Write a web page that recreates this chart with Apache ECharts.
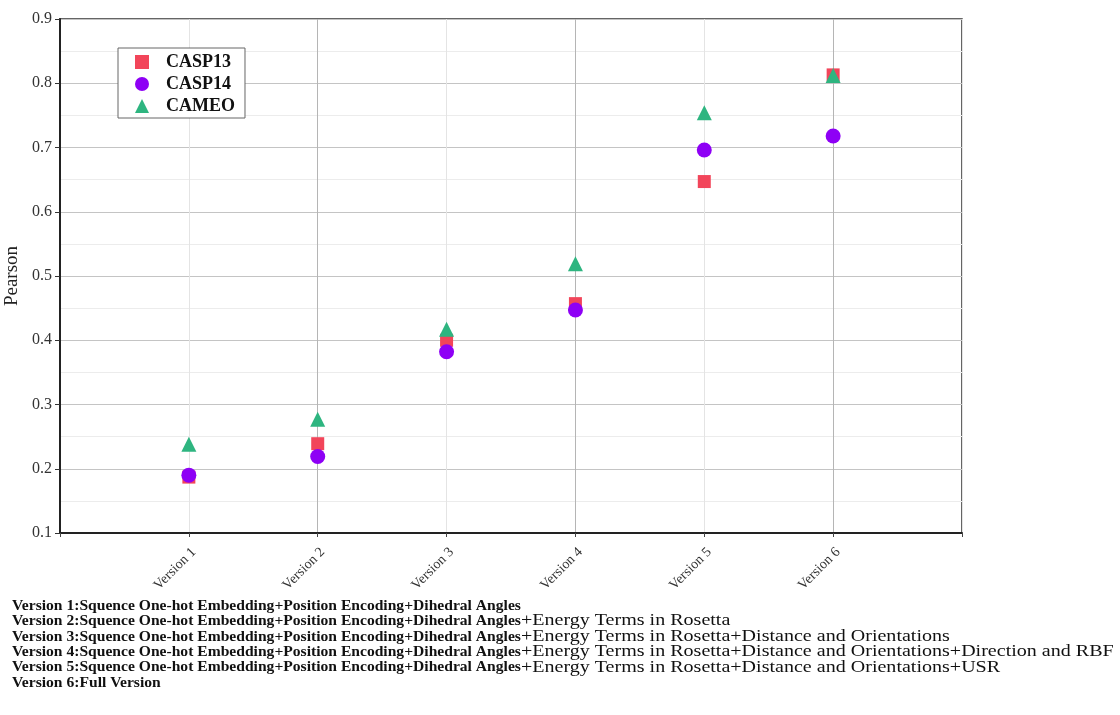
<!DOCTYPE html>
<html>
<head>
<meta charset="utf-8">
<script src="https://cdn.jsdelivr.net/npm/echarts@6/dist/echarts.min.js"></script>
<style>html,body{margin:0;padding:0;background:#fff}#c{width:1120px;height:715px}</style>
</head>
<body>
<div id="c"></div>
<script>
const categories = ['Version 1','Version 2','Version 3','Version 4','Version 5','Version 6'];
const casp13 = [0.187, 0.239, 0.400, 0.457, 0.647, 0.813];
const casp14 = [0.190, 0.219, 0.382, 0.447, 0.696, 0.718];
const cameo  = [0.238, 0.277, 0.417, 0.519, 0.754, 0.812];
const yTicks = [0.1,0.2,0.3,0.4,0.5,0.6,0.7,0.8,0.9];
const notesBold = [
  'Version 1:Squence One-hot Embedding+Position Encoding+Dihedral Angles',
  'Version 2:Squence One-hot Embedding+Position Encoding+Dihedral Angles',
  'Version 3:Squence One-hot Embedding+Position Encoding+Dihedral Angles',
  'Version 4:Squence One-hot Embedding+Position Encoding+Dihedral Angles',
  'Version 5:Squence One-hot Embedding+Position Encoding+Dihedral Angles',
  'Version 6:Full Version'
];
const notesPlain = [
  '',
  '+Energy Terms in Rosetta',
  '+Energy Terms in Rosetta+Distance and Orientations',
  '+Energy Terms in Rosetta+Distance and Orientations+Direction and RBF',
  '+Energy Terms in Rosetta+Distance and Orientations+USR',
  ''
];

const serif = "'Liberation Serif', 'DejaVu Serif', serif";
const toPts = arr => arr.map((v, i) => [i + 1, v]);

const boldFont = 15.6, plainFont = 16.5, plainScale = 1.215;
const mctx = document.createElement('canvas').getContext('2d');
mctx.font = 'bold ' + boldFont + 'px ' + serif;

const graphic = [];
notesBold.forEach((b, i) => {
  const cy = 605.7 + i * 15.4;
  graphic.push({
    type: 'text', x: 12, y: cy,
    style: { text: b, fontFamily: serif, fontWeight: 'bold', fontSize: boldFont, fill: '#111', verticalAlign: 'middle' }
  });
  if (notesPlain[i]) {
    const w = mctx.measureText(b).width;
    graphic.push({
      type: 'text', x: 12 + w, y: cy, scaleX: plainScale,
      style: { text: notesPlain[i], fontFamily: serif, fontSize: plainFont, fill: '#111', verticalAlign: 'middle' }
    });
  }
});

const chart = echarts.init(document.getElementById('c'));
chart.setOption({
  backgroundColor: '#fff',
  animation: false,
  grid: { left: 60, right: 158, top: 19, bottom: 182, containLabel: false, outerBoundsMode: 'none', show: true, borderColor: '#333', borderWidth: 1.5, backgroundColor: 'transparent' },
  legend: {
    orient: 'vertical', left: 118, top: 48,
    itemWidth: 14, itemHeight: 14, itemGap: 4,
    padding: [5, 10, 3, 17],
    borderColor: '#666', borderWidth: 1, backgroundColor: '#fff',
    textStyle: { fontFamily: serif, fontWeight: 'bold', fontSize: 18, color: '#111', padding: [0, 0, 0, 12] },
    data: ['CASP13', 'CASP14', 'CAMEO']
  },
  xAxis: {
    type: 'value', min: 0, max: 7, interval: 1,
    axisLine: { show: true, lineStyle: { color: '#222', width: 2 } },
    axisTick: { show: true, length: 4, lineStyle: { color: '#444' } },
    axisLabel: {
      rotate: 45, verticalAlign: 'top', fontFamily: serif, fontSize: 14, color: '#333', margin: 12,
      formatter: v => (v >= 1 && v <= categories.length) ? categories[v - 1] : ''
    },
    splitLine: { show: true, lineStyle: { color: ['#b5b5b5', '#e4e4e4'], width: 1 } }
  },
  yAxis: {
    type: 'value', min: yTicks[0], max: yTicks[yTicks.length - 1], interval: 0.1,
    name: 'Pearson', nameLocation: 'middle', nameGap: 22,
    nameTextStyle: { fontFamily: serif, fontSize: 19, color: '#222' },
    axisLine: { show: true, lineStyle: { color: '#222', width: 2 } },
    axisTick: { show: true, length: 5, lineStyle: { color: '#333' } },
    axisLabel: { fontFamily: serif, fontSize: 16, color: '#333', margin: 8, formatter: v => v.toFixed(1) },
    splitLine: { show: true, lineStyle: { color: '#c4c4c4', width: 1 } },
    minorTick: { show: false, splitNumber: 2 },
    minorSplitLine: { show: true, lineStyle: { color: '#ececec', width: 1 } }
  },
  series: [
    { name: 'CASP13', type: 'scatter', symbol: 'rect', symbolSize: 13, itemStyle: { color: '#f2455a', opacity: 1 }, data: toPts(casp13) },
    { name: 'CASP14', type: 'scatter', symbol: 'circle', symbolSize: 15, itemStyle: { color: '#8e00f5', opacity: 1 }, data: toPts(casp14) },
    { name: 'CAMEO', type: 'scatter', symbol: 'triangle', symbolSize: 15, itemStyle: { color: '#2eb580', opacity: 1 }, data: toPts(cameo) }
  ],
  graphic: graphic
});
</script>
</body>
</html>
